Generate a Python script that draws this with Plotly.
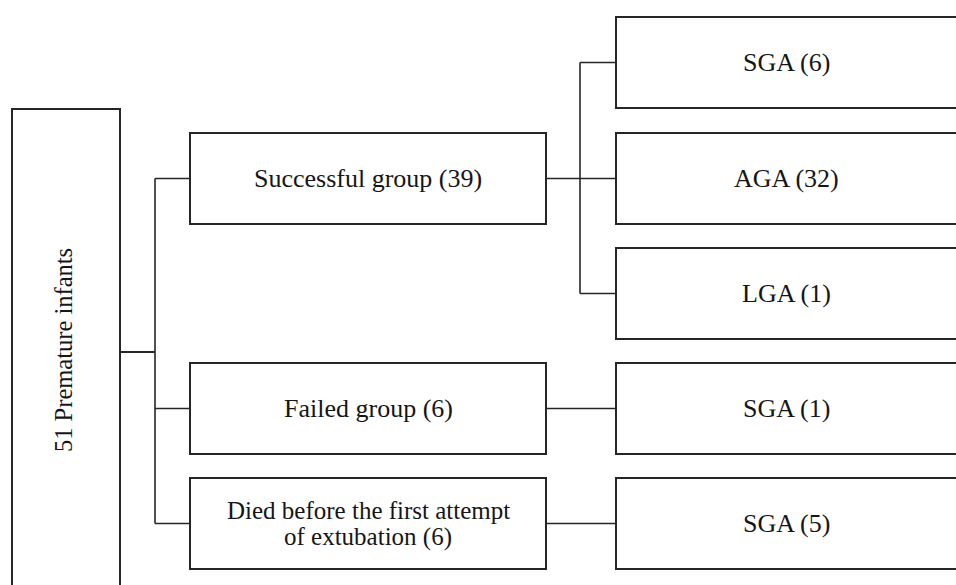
import plotly.graph_objects as go

# ---- data ----
root_label = "51 Premature infants"
group_labels = ["Successful group", "Failed group", "Died before the first attempt|of extubation"]
group_counts = [39, 6, 6]
subgroup_labels = ["SGA", "AGA", "LGA", "SGA", "SGA"]
subgroup_counts = [6, 32, 1, 1, 5]
subgroup_parent = [0, 0, 0, 1, 2]

# ---- layout geometry (pixels in a 956x585 canvas, y downward) ----
W, H = 956, 585
LINE = "#262626"
TXT = "#161616"
FONT = "Liberation Serif, Times New Roman, serif"
FS = 26

root_box = (12, 120, 109, 600)
root_conn_y = 352
trunk_x = 155
group_x = (190, 546)
group_y = [(133, 224), (363, 454), (478, 569)]
sub_x = (616, 990)
sub_y = [(17, 108), (133, 224), (248, 339), (363, 454), (478, 569)]
split_x = 580

shapes = []
annotations = []


def rect(x0, x1, y0, y1):
    shapes.append(dict(type="rect", xref="x", yref="y", x0=x0, x1=x1, y0=y0, y1=y1,
                       line=dict(color=LINE, width=2), fillcolor="white", layer="above"))


def seg(x0, y0, x1, y1, w=1.6):
    shapes.append(dict(type="line", xref="x", yref="y", x0=x0, y0=y0, x1=x1, y1=y1,
                       line=dict(color=LINE, width=w), layer="below"))


def text(x, y, s, angle=0, size=FS):
    annotations.append(dict(x=x, y=y, xref="x", yref="y", text=s, showarrow=False,
                            textangle=angle, font=dict(family=FONT, size=size, color=TXT),
                            xanchor="center", yanchor="middle"))


# root
rect(*root_box)
text(63, 350, root_label, angle=-90, size=24.5)
seg(root_box[1], root_conn_y, trunk_x, root_conn_y, 2)

mids = [(a + b) / 2 for a, b in group_y]
seg(trunk_x, mids[0], trunk_x, mids[-1])

# groups
for i, (lab, n) in enumerate(zip(group_labels, group_counts)):
    y0, y1 = group_y[i]
    m = (y0 + y1) / 2
    seg(trunk_x, m, group_x[0], m)
    rect(group_x[0], group_x[1], y0, y1)
    full = f"{lab} ({n})"
    lines = full.split("|")
    if len(lines) == 1:
        text((group_x[0] + group_x[1]) / 2, m, lines[0])
    else:
        step = 27
        for k, ln in enumerate(lines):
            text((group_x[0] + group_x[1]) / 2, m - step / 2 + k * step, ln, size=25)

# subgroups
for j, (lab, n, p) in enumerate(zip(subgroup_labels, subgroup_counts, subgroup_parent)):
    y0, y1 = sub_y[j]
    m = (y0 + y1) / 2
    rect(sub_x[0], sub_x[1], y0, y1)
    text((sub_x[0] + W) / 2, m, f"{lab} ({n})")

# connectors group -> subgroups
for gi in range(len(group_labels)):
    kids = [j for j, p in enumerate(subgroup_parent) if p == gi]
    gm = mids[gi]
    kid_m = [(sub_y[j][0] + sub_y[j][1]) / 2 for j in kids]
    if len(kids) == 1:
        seg(group_x[1], gm, sub_x[0], gm)
    else:
        seg(group_x[1], gm, split_x, gm)
        seg(split_x, min(kid_m), split_x, max(kid_m))
        for km in kid_m:
            seg(split_x, km, sub_x[0], km)

fig = go.Figure()
fig.add_trace(go.Scatter(x=[0, W], y=[0, H], mode="markers", marker=dict(opacity=0),
                         hoverinfo="skip", showlegend=False))
fig.update_layout(
    width=W, height=H, margin=dict(l=0, r=0, t=0, b=0),
    paper_bgcolor="white", plot_bgcolor="white",
    xaxis=dict(range=[0, W], visible=False, fixedrange=True),
    yaxis=dict(range=[H, 0], visible=False, fixedrange=True),
    shapes=shapes, annotations=annotations, showlegend=False,
)
fig.write_html(
    "out.html",
    config={"displayModeBar": False},
    post_script="document.body.style.margin='0';document.body.style.overflow='hidden';",
)
